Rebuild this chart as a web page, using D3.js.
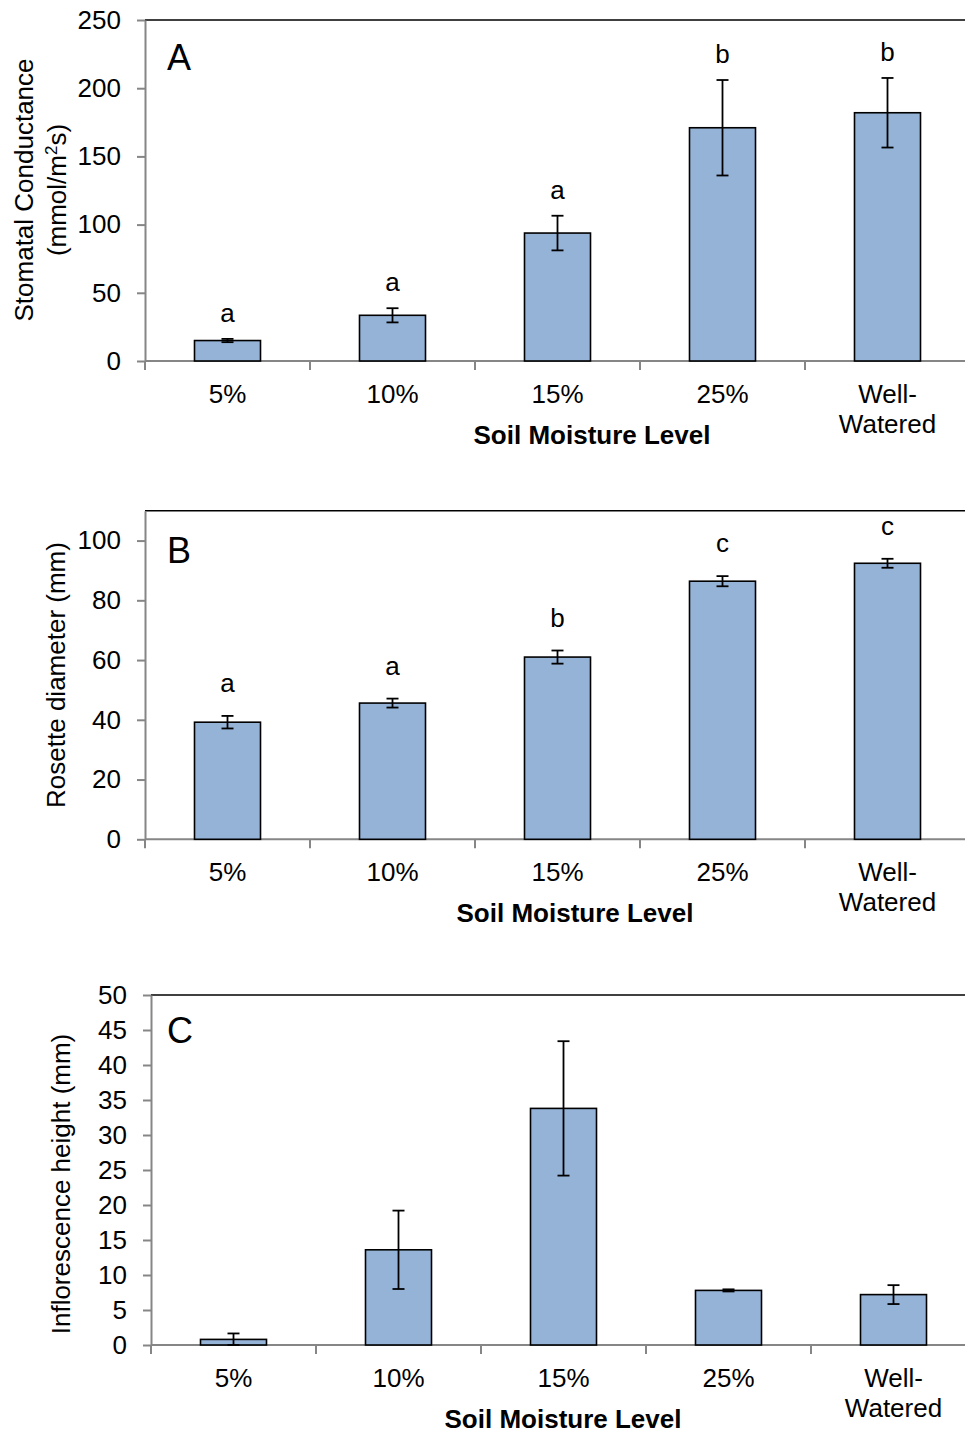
<!DOCTYPE html>
<html>
<head>
<meta charset="utf-8">
<script src="https://cdn.jsdelivr.net/npm/d3@7"></script>
<style>
  body { margin: 0; background: #fff; }
  text { font-family: "Liberation Sans", Arial, sans-serif; fill: #000; }
  .tick-label { font-size: 26px; }
  .axis-title { font-size: 26px; font-weight: bold; }
  .y-title { font-size: 26px; }
  .panel-letter { font-size: 36px; }
  .sig { font-size: 26px; }
</style>
</head>
<body>
<div id="chart"></div>
<script>
// soil moisture treatments
const categories = ["5%", "10%", "15%", "25%", "Well-Watered"];

// A: stomatal conductance (mmol/m2s)
const conductance = [15, 33.5, 93.8, 171, 182];
const conductanceErr = [1.2, 5.2, 12.7, 35, 25.5];
const conductanceLetters = ["a", "a", "a", "b", "b"];

// B: rosette diameter (mm)
const diameter = [39.2, 45.6, 61.0, 86.4, 92.4];
const diameterErr = [2.1, 1.5, 2.2, 1.7, 1.5];
const diameterLetters = ["a", "a", "b", "c", "c"];

// C: inflorescence height (mm)
const inflorescence = [0.8, 13.6, 33.8, 7.8, 7.2];
const inflorescenceErr = [0.85, 5.6, 9.6, 0.15, 1.35];

const W = 965, H = 1436;
const barColor = "#95b3d7";
const axisGray = "#868686";

const svg = d3.select("#chart").append("svg")
  .attr("width", W)
  .attr("height", H);

function drawPanel(p) {
  const g = svg.append("g");

  const x = d3.scaleBand()
    .domain(categories)
    .range([p.left, p.left + 825])
    .paddingInner(0).paddingOuter(0);

  const y = d3.scaleLinear()
    .domain([0, p.yMax])
    .range([p.bottom, p.top]);

  // top border
  g.append("line")
    .attr("x1", p.left).attr("x2", W + 10)
    .attr("y1", y(p.yMax)).attr("y2", y(p.yMax))
    .attr("stroke", "#000").attr("stroke-width", 1.5);

  // y axis
  const yAxis = g.append("g")
    .attr("transform", `translate(${p.left},0)`)
    .call(d3.axisLeft(y).tickValues(p.yTicks).tickSize(8).tickPadding(16).tickSizeOuter(0));
  yAxis.select(".domain").attr("stroke", axisGray).attr("stroke-width", 2);
  yAxis.selectAll(".tick line").attr("stroke", axisGray).attr("stroke-width", 2);
  yAxis.selectAll(".tick text")
    .attr("class", "tick-label")
    .attr("font-size", null).attr("font-family", null)
    .style("font-size", "26px");

  // x axis line and category boundary ticks
  g.append("line")
    .attr("x1", p.left).attr("x2", W + 10)
    .attr("y1", p.bottom).attr("y2", p.bottom)
    .attr("stroke", axisGray).attr("stroke-width", 2);

  const bounds = categories.map(c => x(c)).concat([x.range()[1]]);
  g.selectAll(".xtick")
    .data(bounds)
    .enter().append("line")
    .attr("x1", d => d).attr("x2", d => d)
    .attr("y1", p.bottom).attr("y2", p.bottom + 9)
    .attr("stroke", axisGray).attr("stroke-width", 2);

  // category labels
  const labels = g.selectAll(".xlabel")
    .data(categories)
    .enter().append("text")
    .attr("class", "tick-label")
    .attr("text-anchor", "middle")
    .attr("x", d => x(d) + x.bandwidth() / 2)
    .attr("y", p.bottom + 42);
  labels.each(function(d) {
    const t = d3.select(this);
    if (d === "Well-Watered") {
      t.append("tspan").attr("x", x(d) + x.bandwidth() / 2).text("Well-");
      t.append("tspan").attr("x", x(d) + x.bandwidth() / 2).attr("dy", 30).text("Watered");
    } else {
      t.text(d);
    }
  });

  // bars
  const bw = x.bandwidth() * 0.4;
  const cx = c => x(c) + x.bandwidth() / 2;
  g.selectAll(".bar")
    .data(p.values)
    .enter().append("rect")
    .attr("x", (d, i) => cx(categories[i]) - bw / 2)
    .attr("y", d => y(d))
    .attr("width", bw)
    .attr("height", d => p.bottom - y(d))
    .attr("fill", barColor)
    .attr("stroke", "#000")
    .attr("stroke-width", 1.6);

  // error bars
  const err = g.selectAll(".err")
    .data(p.values)
    .enter().append("g");
  err.append("line")
    .attr("x1", (d, i) => cx(categories[i])).attr("x2", (d, i) => cx(categories[i]))
    .attr("y1", (d, i) => y(d + p.errors[i]))
    .attr("y2", (d, i) => y(Math.max(0, d - p.errors[i])));
  err.append("line")
    .attr("x1", (d, i) => cx(categories[i]) - 6).attr("x2", (d, i) => cx(categories[i]) + 6)
    .attr("y1", (d, i) => y(d + p.errors[i])).attr("y2", (d, i) => y(d + p.errors[i]));
  err.append("line")
    .attr("x1", (d, i) => cx(categories[i]) - 6).attr("x2", (d, i) => cx(categories[i]) + 6)
    .attr("y1", (d, i) => y(Math.max(0, d - p.errors[i])))
    .attr("y2", (d, i) => y(Math.max(0, d - p.errors[i])));
  err.selectAll("line").attr("stroke", "#000").attr("stroke-width", 1.8);

  // significance letters
  if (p.letters) {
    g.selectAll(".sig")
      .data(p.values)
      .enter().append("text")
      .attr("class", "sig")
      .attr("text-anchor", "middle")
      .attr("x", (d, i) => cx(categories[i]))
      .attr("y", (d, i) => y(d + p.errors[i]) - p.letterGap)
      .text((d, i) => p.letters[i]);
  }

  // panel letter
  g.append("text")
    .attr("class", "panel-letter")
    .attr("x", 167)
    .attr("y", p.top + p.letterY)
    .text(p.name);

  // x axis title
  g.append("text")
    .attr("class", "axis-title")
    .attr("text-anchor", "middle")
    .attr("x", p.xTitleX)
    .attr("y", p.bottom + 83)
    .text("Soil Moisture Level");

  // y axis title
  const yt = g.append("text")
    .attr("class", "y-title")
    .attr("text-anchor", "middle")
    .attr("transform", `translate(${p.yTitleX},${p.yTitleY}) rotate(-90)`);
  p.yTitle(yt);
}

drawPanel({
  name: "A",
  left: 145, top: 20, bottom: 361, yMax: 250,
  yTicks: d3.range(0, 251, 50),
  values: conductance, errors: conductanceErr, letters: conductanceLetters,
  letterGap: 17, letterY: 50, xTitleX: 592,
  yTitleX: 33, yTitleY: 190,
  yTitle: t => {
    t.append("tspan").attr("x", 0).attr("y", 0).text("Stomatal Conductance");
    const l2 = t.append("tspan").attr("x", 0).attr("y", 33);
    l2.append("tspan").text("(mmol/m");
    l2.append("tspan").attr("dy", -9).style("font-size", "17px").text("2");
    l2.append("tspan").attr("dy", 9).text("s)");
  }
});

drawPanel({
  name: "B",
  left: 145, top: 510.7, bottom: 839.3, yMax: 110,
  yTicks: d3.range(0, 101, 20),
  values: diameter, errors: diameterErr, letters: diameterLetters,
  letterGap: 24, letterY: 52, xTitleX: 575,
  yTitleX: 65, yTitleY: 675,
  yTitle: t => t.text("Rosette diameter (mm)")
});

drawPanel({
  name: "C",
  left: 151, top: 995, bottom: 1345, yMax: 50,
  yTicks: d3.range(0, 51, 5),
  values: inflorescence, errors: inflorescenceErr, letters: null,
  letterGap: 0, letterY: 48, xTitleX: 563,
  yTitleX: 70, yTitleY: 1184,
  yTitle: t => t.text("Inflorescence height (mm)")
});
</script>
</body>
</html>
